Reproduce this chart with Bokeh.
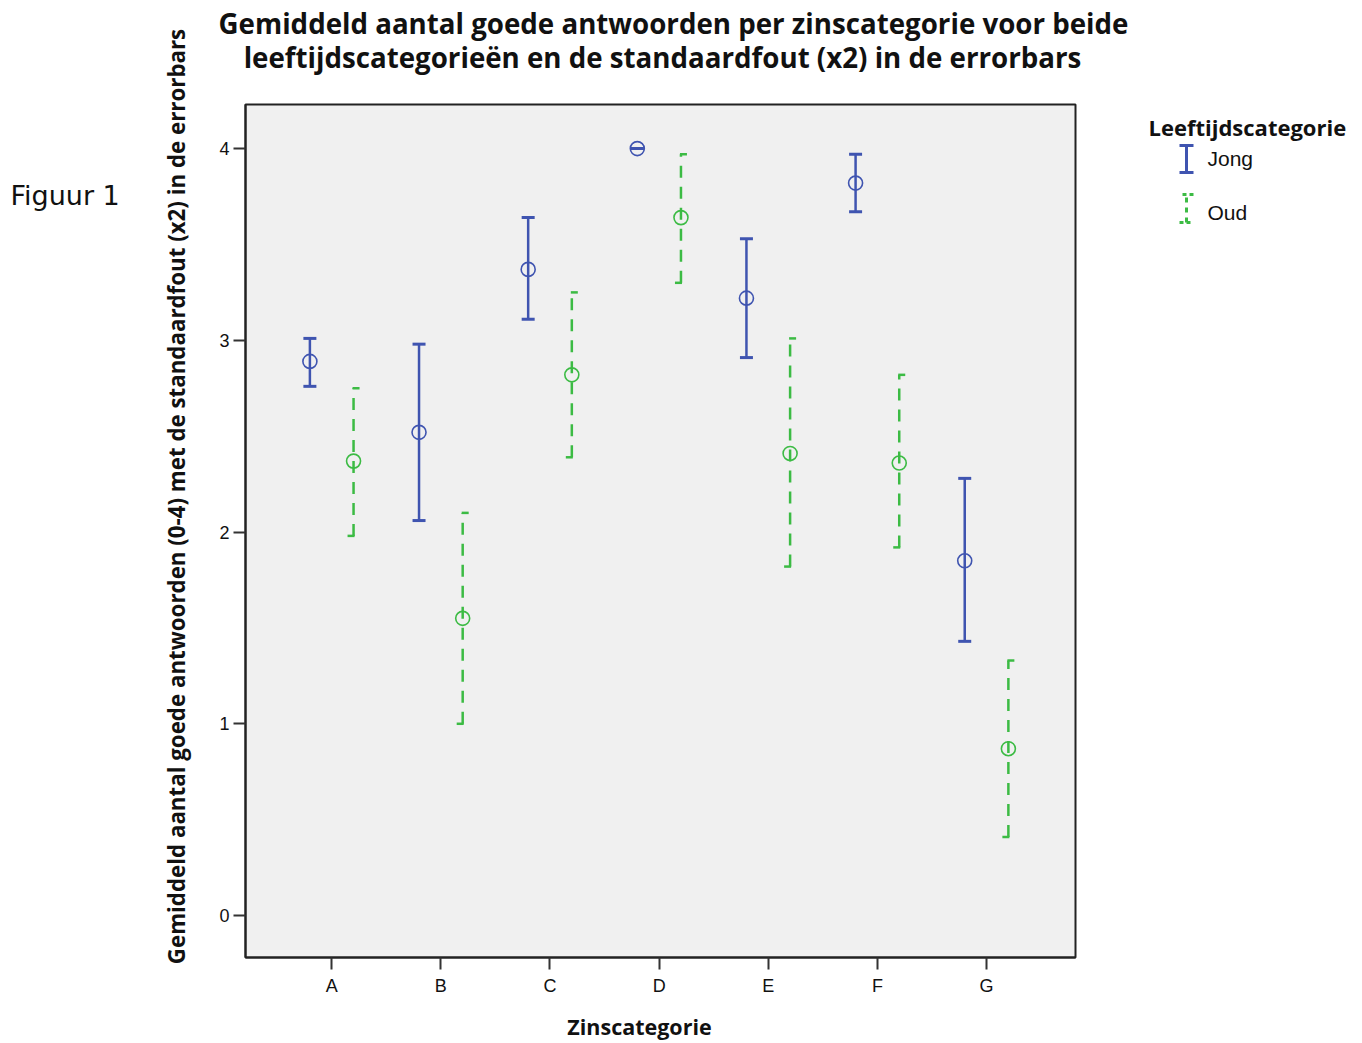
import math
from bokeh.plotting import figure
from bokeh.layouts import row, column
from bokeh.models import ColumnDataSource, Range1d, FixedTicker, Whisker, TeeHead
from bokeh.core.properties import value
from bokeh.embed import file_html
from bokeh.resources import INLINE

categories = ["A", "B", "C", "D", "E", "F", "G"]
jong_mean = [2.89, 2.52, 3.37, 4.00, 3.22, 3.82, 1.85]
jong_low = [2.76, 2.06, 3.11, 4.00, 2.91, 3.67, 1.43]
jong_high = [3.01, 2.98, 3.64, 4.00, 3.53, 3.97, 2.28]
oud_mean = [2.37, 1.55, 2.82, 3.64, 2.41, 2.36, 0.87]
oud_low = [1.98, 1.00, 2.39, 3.30, 1.82, 1.92, 0.41]
oud_high = [2.75, 2.10, 3.25, 3.97, 3.01, 2.82, 1.33]
y_ticks = [0, 1, 2, 3, 4]
series_names = ["Jong", "Oud"]

TITLE_1 = "Gemiddeld aantal goede antwoorden per zinscategorie voor beide"
TITLE_2 = "leeftijdscategorieën en de standaardfout (x2) in de errorbars"
Y_LABEL = "Gemiddeld aantal goede antwoorden (0-4) met de standaardfout (x2) in de errorbars"
X_LABEL = "Zinscategorie"
FIG_LABEL = "Figuur 1"
LEGEND_TITLE = "Leeftijdscategorie"

JONG = "#3f54b0"
OUD = "#3cbb44"
BOLD_FONT = "Open Sans"


def text_fig(x0, x1, y0, y1, top=0, bottom=0):
    f = figure(width=x1 - x0, height=y1 - y0 + top + bottom, x_range=Range1d(x0, x1),
               y_range=Range1d(y1, y0), output_backend="svg", toolbar_location=None,
               min_border=0, min_border_top=top, min_border_bottom=bottom,
               x_axis_location=None, y_axis_location=None)
    if f.title is not None:
        f.title.visible = False
    f.grid.visible = False
    f.outline_line_color = None
    f.background_fill_color = "white"
    f.border_fill_color = "white"
    return f


def txt(f, s, x, y, size, font=BOLD_FONT, style="bold", align="center", angle=0.0):
    f.text(x=[x], y=[y], text=[s], text_font=value(font), text_font_style=style,
           text_font_size=size, text_align=align, text_baseline="middle", angle=angle,
           text_color="#111111")


# left strip: "Figuur 1" and y-axis title
L = text_fig(0, 210, 0, 1042)
txt(L, FIG_LABEL, 10, 195, "27px", font="DejaVu Sans", style="normal", align="left")
txt(L, Y_LABEL, 176, 496, "22.3px", angle=math.pi / 2)

# top: chart title
T = text_fig(210, 1360, 0, 90)
txt(T, TITLE_1, 673, 22, "27.7px")
txt(T, TITLE_2, 662, 56, "27.7px")

# bottom: x-axis title
B = text_fig(210, 1360, 1002, 1042)
txt(B, X_LABEL, 639, 1026, "21.5px")

# main chart
BT, BB = 14, 45
p = figure(width=920, height=912, output_backend="svg", toolbar_location=None,
           x_range=Range1d(0.21, 7.815), y_range=Range1d(-0.219, 4.23),
           min_border_left=35, min_border_right=55, min_border_top=BT, min_border_bottom=BB)
if p.title is not None:
    p.title.visible = False
p.background_fill_color = "#f0f0f0"
p.border_fill_color = "white"
p.outline_line_color = "#222222"
p.outline_line_width = 2
p.xgrid.visible = False
p.ygrid.visible = False

xpos = list(range(1, len(categories) + 1))
p.xaxis.ticker = FixedTicker(ticks=xpos)
p.xaxis.major_label_overrides = {i + 1: c for i, c in enumerate(categories)}
p.yaxis.ticker = FixedTicker(ticks=y_ticks)
for ax in (p.xaxis[0], p.yaxis[0]):
    ax.axis_line_color = "#222222"
    ax.axis_line_width = 2
    ax.major_tick_line_color = "#333333"
    ax.major_tick_line_width = 2
    ax.major_tick_out = 12
    ax.major_tick_in = 0
    ax.minor_tick_line_color = None
    ax.major_label_text_font = "Liberation Sans"
    ax.major_label_text_font_size = "18px"
    ax.major_label_text_color = "#111111"
p.xaxis.major_label_standoff = 6
p.yaxis.major_label_standoff = 4

off = 0.2
src_j = ColumnDataSource(dict(x=[v - off for v in xpos], m=jong_mean, lo=jong_low, hi=jong_high))
src_o = ColumnDataSource(dict(x=[v + off for v in xpos], m=oud_mean, lo=oud_low, hi=oud_high))

p.add_layout(Whisker(source=src_j, base="x", lower="lo", upper="hi", line_color=JONG, line_width=2.5,
                     upper_head=TeeHead(size=13, line_color=JONG, line_width=3),
                     lower_head=TeeHead(size=13, line_color=JONG, line_width=3)))
p.add_layout(Whisker(source=src_o, base="x", lower="lo", upper="hi", line_color=OUD, line_width=2.5,
                     line_dash="12 9",
                     upper_head=TeeHead(size=12, line_color=OUD, line_width=2.5, line_dash="7 5"),
                     lower_head=TeeHead(size=12, line_color=OUD, line_width=2.5, line_dash="7 5")))
p.scatter("x", "m", source=src_j, marker="circle", size=14, fill_color=None,
          line_color=JONG, line_width=1.6)
p.scatter("x", "m", source=src_o, marker="circle", size=14, fill_color=None,
          line_color=OUD, line_width=1.6)

# right strip: legend (same vertical borders as the chart so the frames line up)
R = text_fig(1130, 1360, 104, 957, top=BT, bottom=BB)
txt(R, LEGEND_TITLE, 1148, 126, "22px", align="left")
txt(R, series_names[0], 1207, 158, "21px", font="Liberation Sans", style="normal", align="left")
txt(R, series_names[1], 1207, 212, "21px", font="Liberation Sans", style="normal", align="left")
leg_j = ColumnDataSource(dict(b=[1186], lo=[172], hi=[145]))
leg_o = ColumnDataSource(dict(b=[1186], lo=[222], hi=[194]))
R.add_layout(Whisker(source=leg_j, base="b", lower="lo", upper="hi",
                     line_color=JONG, line_width=3,
                     upper_head=TeeHead(size=14, line_color=JONG, line_width=3),
                     lower_head=TeeHead(size=14, line_color=JONG, line_width=3)))
R.add_layout(Whisker(source=leg_o, base="b", lower="lo", upper="hi",
                     line_color=OUD, line_width=3, line_dash="5 5",
                     upper_head=TeeHead(size=14, line_color=OUD, line_width=3, line_dash="4 3"),
                     lower_head=TeeHead(size=14, line_color=OUD, line_width=3, line_dash="4 3")))

layout = row(L, column(T, row(p, R), B))
open("out.html", "w").write(file_html(layout, INLINE))
